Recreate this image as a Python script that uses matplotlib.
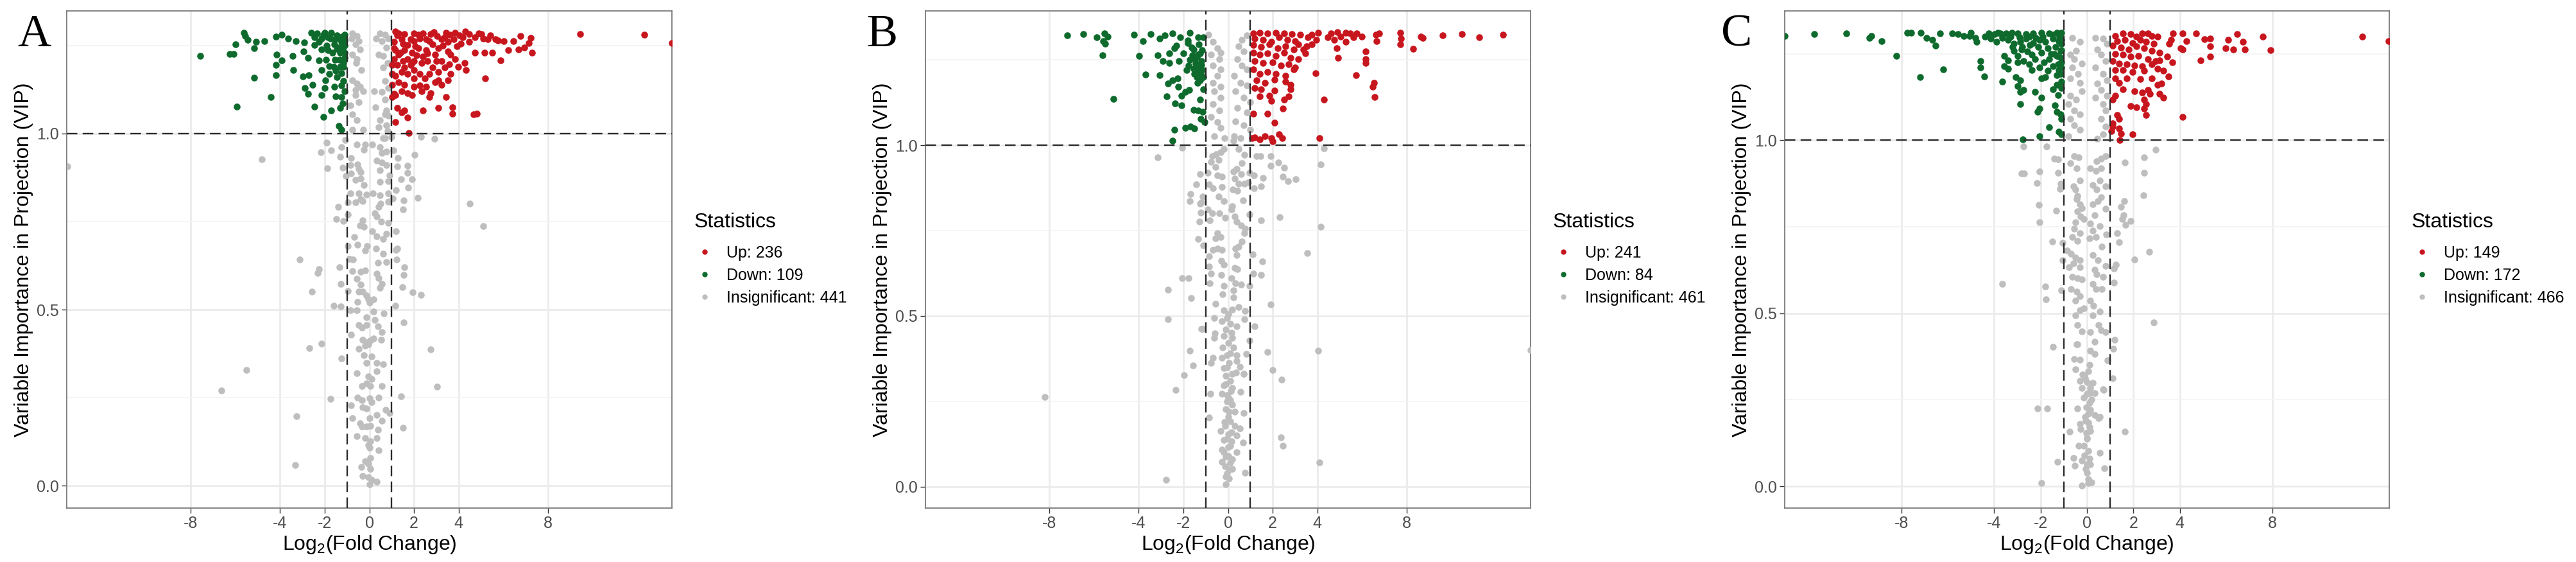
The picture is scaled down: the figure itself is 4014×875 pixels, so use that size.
import numpy as np
import matplotlib
matplotlib.use("Agg")
import matplotlib.pyplot as plt
from matplotlib.lines import Line2D

plt.rcParams["font.family"] = "Liberation Sans"
plt.rcParams["mathtext.fontset"] = "custom"
plt.rcParams["mathtext.rm"] = "Liberation Sans"

# ---- data: (log2 fold change, VIP) ----
panels = ["A", "B", "C"]
legend_counts = {"A": [236, 109, 441], "B": [241, 84, 461], "C": [149, 172, 466]}
x_ticks = [-8, -4, -2, 0, 2, 4, 8]
y_ticks = [0.0, 0.5, 1.0]

a_up = [
    (9.44, 1.283), (12.30, 1.280), (13.54, 1.257),
    (7.29, 1.230), (7.22, 1.272), (7.15, 1.257), (6.78, 1.276), (6.94, 1.245), (6.69, 1.239), (6.46, 1.263),
    (6.23, 1.236), (6.01, 1.263), (5.88, 1.208), (5.77, 1.265), (5.50, 1.230), (5.15, 1.230), (4.74, 1.230),
    (5.20, 1.156), (4.67, 1.054), (4.81, 1.057), (5.43, 1.279), (5.02, 1.282), (4.47, 1.282), (3.85, 1.286),
    (3.44, 1.286), (4.19, 1.273), (4.74, 1.273), (5.29, 1.267), (5.64, 1.267),
    (3.71, 1.075), (3.71, 1.057), (3.09, 1.072), (3.44, 1.103), (3.64, 1.169), (3.51, 1.151), (3.09, 1.151),
    (2.68, 1.103), (2.41, 1.066), (2.34, 1.121), (2.27, 1.136), (1.92, 1.109), (1.72, 1.045), (1.58, 1.066),
    (1.44, 1.060), (1.24, 1.072), (1.17, 1.033), (1.76, 1.001), (1.10, 1.112),
    (3.23, 1.206), (3.57, 1.197), (3.85, 1.212), (3.99, 1.190), (4.26, 1.200), (4.33, 1.181), (3.92, 1.248),
    (3.51, 1.233), (3.09, 1.242), (2.82, 1.254), (2.54, 1.236), (2.20, 1.242), (1.92, 1.230), (1.72, 1.251),
    (1.44, 1.267), (1.24, 1.279), (1.58, 1.282), (1.99, 1.285), (2.41, 1.284), (2.75, 1.282), (3.02, 1.276),
    (3.23, 1.267), (2.27, 1.270), (1.86, 1.267), (1.10, 1.260), (1.17, 1.236), (1.10, 1.212), (1.24, 1.194),
    (1.51, 1.206), (1.72, 1.212), (1.99, 1.206), (2.34, 1.200), (2.61, 1.206), (2.82, 1.187), (2.68, 1.169),
    (2.27, 1.169), (1.99, 1.181), (1.72, 1.169), (1.44, 1.175), (1.17, 1.163), (1.31, 1.145), (1.58, 1.139),
    (1.99, 1.157), (2.48, 1.157), (2.96, 1.145), (3.23, 1.139), (2.54, 1.133), (1.99, 1.133), (1.44, 1.121),
    (1.17, 1.109), (1.72, 1.115), (2.75, 1.115), (1.03, 1.169), (1.03, 1.194), (1.03, 1.139), (1.03, 1.103),
    (1.10, 1.242), (1.31, 1.224), (1.58, 1.236), (2.06, 1.248), (2.54, 1.267), (3.51, 1.260), (3.78, 1.267),
    (4.05, 1.279), (4.47, 1.260), (5.09, 1.270), (3.37, 1.273), (3.64, 1.224), (2.96, 1.224), (2.41, 1.218),
    (1.58, 1.187), (1.86, 1.194), (3.09, 1.175), (3.37, 1.187),
    (1.30, 1.285), (2.20, 1.280), (2.90, 1.288), (3.60, 1.280), (4.30, 1.290), (4.90, 1.285), (1.50, 1.255),
    (2.00, 1.262), (2.70, 1.262), (3.30, 1.250), (4.10, 1.255), (1.15, 1.290), (1.40, 1.230), (2.10, 1.222),
    (2.60, 1.228), (3.00, 1.205), (1.90, 1.200),
]
a_down = [
    (-7.56, 1.220), (-6.25, 1.225), (-6.07, 1.225), (-5.98, 1.254), (-5.63, 1.286), (-5.57, 1.276),
    (-5.46, 1.266), (-5.08, 1.260), (-5.15, 1.243), (-4.70, 1.262), (-4.19, 1.275), (-3.92, 1.280),
    (-3.64, 1.270), (-3.30, 1.262), (-2.93, 1.259), (-2.61, 1.286), (-2.34, 1.285), (-1.99, 1.286),
    (-1.72, 1.286), (-1.44, 1.279), (-1.30, 1.273), (-1.17, 1.276), (-2.47, 1.273), (-2.13, 1.270),
    (-1.85, 1.273), (-1.58, 1.267), (-4.16, 1.224), (-3.92, 1.207), (-3.44, 1.221), (-2.95, 1.233),
    (-2.75, 1.215), (-2.47, 1.251), (-2.13, 1.239), (-1.85, 1.236), (-1.58, 1.254), (-1.37, 1.245),
    (-4.19, 1.194), (-4.19, 1.166), (-3.41, 1.180), (-2.98, 1.162), (-2.71, 1.166), (-2.27, 1.207),
    (-2.13, 1.181), (-1.79, 1.192), (-1.51, 1.178), (-1.24, 1.172), (-1.17, 1.200), (-1.30, 1.230),
    (-1.10, 1.215), (-5.15, 1.158), (-4.40, 1.104), (-5.94, 1.076), (-2.75, 1.112), (-2.89, 1.130),
    (-2.54, 1.139), (-2.13, 1.109), (-1.97, 1.151), (-1.58, 1.133), (-1.24, 1.136), (-1.24, 1.103),
    (-2.45, 1.076), (-2.06, 1.048), (-1.72, 1.066), (-1.30, 1.072), (-1.37, 1.021), (-1.24, 1.011),
    (-1.10, 1.280), (-1.10, 1.250), (-1.10, 1.230), (-1.15, 1.190), (-1.25, 1.260), (-1.35, 1.210),
    (-1.45, 1.240), (-1.20, 1.240), (-1.40, 1.270), (-1.12, 1.265), (-1.30, 1.190), (-1.55, 1.210),
    (-1.65, 1.230), (-1.75, 1.270), (-1.90, 1.250), (-2.05, 1.280), (-2.25, 1.260), (-1.60, 1.190),
    (-1.95, 1.210), (-1.45, 1.160), (-1.15, 1.150), (-1.80, 1.170), (-2.00, 1.130), (-1.10, 1.120),
    (-1.50, 1.105), (-1.20, 1.085),
]
a_ns = [
    (-0.75, 1.285), (-0.55, 1.276), (-0.48, 1.263), (-0.62, 1.254), (-0.41, 1.239), (-0.75, 1.224),
    (-0.55, 1.212), (0.48, 1.285), (0.69, 1.280), (0.55, 1.263), (0.76, 1.245), (0.41, 1.224), (0.62, 1.221),
    (0.83, 1.200), (0.62, 1.188), (-0.75, 1.151), (-0.55, 1.142), (-0.41, 1.133), (-0.62, 1.124),
    (-0.27, 1.121), (0.21, 1.121), (0.55, 1.118), (-0.62, 1.109), (-0.48, 1.090), (0.69, 1.097),
    (0.76, 1.066), (0.48, 1.039), (0.69, 1.054), (-0.75, 1.054), (-0.55, 1.039), (-0.75, 1.011),
    (-0.27, 1.011), (0.41, 1.018), (0.76, 1.024), (0.28, 1.075), (0.69, 0.987), (-0.80, 1.270),
    (-0.60, 1.200), (-0.35, 1.180), (0.85, 1.270), (0.70, 1.150), (0.85, 1.050), (-0.85, 1.080),
    (0.30, 1.270), (0.85, 1.130),
    (4.50, 0.802), (5.10, 0.737), (-3.13, 0.642), (-2.25, 0.616), (-2.32, 0.605), (-2.56, 0.552),
    (-1.60, 0.512), (-1.27, 0.509), (-2.68, 0.391), (-2.13, 0.403), (-1.25, 0.361), (2.75, 0.387),
    (3.04, 0.281), (-1.74, 0.246), (-3.26, 0.198), (1.51, 0.164), (-3.33, 0.060), (1.41, 0.255),
    (1.53, 0.463), (2.32, 0.543), (1.93, 0.549), (2.17, 0.817), (1.92, 0.870), (2.04, 0.940), (2.92, 0.985),
    (2.30, 0.990), (1.75, 0.847), (1.72, 0.889), (1.72, 0.908), (1.42, 0.870), (1.55, 0.811), (1.50, 0.785),
    (1.58, 0.621), (1.55, 0.598), (1.47, 0.565), (1.25, 0.673), (1.22, 0.642), (1.15, 0.511),
    (-2.16, 0.947), (-1.87, 0.902), (-1.91, 0.975), (-1.72, 0.953), (-1.32, 0.934), (-1.25, 0.962),
    (-1.39, 0.792), (-1.47, 0.758), (-1.17, 0.751), (-1.34, 0.620), (-1.29, 0.574), (-13.53, 0.906),
    (-4.80, 0.927), (-5.49, 0.329), (-6.63, 0.271),
    (-1.08, 0.982), (-0.57, 0.969), (-0.19, 0.969), (-0.24, 0.955), (0.14, 0.969), (0.48, 0.962),
    (0.62, 0.987), (0.81, 1.008), (1.00, 0.990), (0.57, 0.945), (0.77, 0.948), (1.08, 0.953), (1.29, 0.931),
    (1.26, 0.907), (0.34, 0.924), (0.57, 0.917), (0.77, 0.910), (-0.82, 0.931), (-0.86, 0.910),
    (-0.53, 0.913), (-0.48, 0.900), (-0.38, 0.890), (-1.20, 0.903), (-1.05, 0.879), (-0.81, 0.886),
    (-0.62, 0.868), (-0.38, 0.872), (-0.24, 0.854), (0.48, 0.896), (0.46, 0.863), (0.86, 0.865),
    (0.91, 0.882), (1.20, 0.840), (-0.86, 0.830), (-0.48, 0.830), (-0.38, 0.813), (-0.14, 0.826),
    (0.16, 0.830), (0.48, 0.825), (0.86, 0.831), (-0.96, 0.805), (-0.62, 0.805), (-0.29, 0.809),
    (0.51, 0.802), (0.43, 0.792), (0.86, 0.807), (1.05, 0.815), (-0.96, 0.771), (0.24, 0.774), (0.34, 0.764),
    (-0.29, 0.753), (-0.24, 0.736), (-0.43, 0.739), (0.53, 0.750), (0.86, 0.746), (0.14, 0.722),
    (0.34, 0.708), (0.62, 0.701), (0.77, 0.715), (1.20, 0.723), (-0.67, 0.706), (-0.53, 0.684),
    (-0.96, 0.680), (-0.10, 0.680), (-0.19, 0.668), (0.29, 0.673), (0.62, 0.659), (0.75, 0.635),
    (1.20, 0.670), (-0.72, 0.642), (-0.91, 0.645), (0.38, 0.633), (-0.77, 0.610), (-0.38, 0.607),
    (-0.19, 0.612), (0.34, 0.603), (0.43, 0.589), (0.57, 0.574), (0.48, 0.563), (-0.55, 0.588),
    (-0.38, 0.571), (-0.96, 0.553), (-0.48, 0.551), (-0.29, 0.551), (-0.14, 0.541), (-0.05, 0.530),
    (0.19, 0.530), (0.00, 0.520), (-0.53, 0.523), (-0.86, 0.499), (-0.55, 0.499), (0.19, 0.495),
    (0.64, 0.490), (-0.14, 0.478), (0.24, 0.471), (-0.48, 0.457), (-0.34, 0.450), (-0.14, 0.457),
    (0.38, 0.453), (-0.81, 0.429), (0.57, 0.436), (-0.29, 0.415), (-0.14, 0.408), (0.05, 0.412),
    (0.19, 0.419), (-0.05, 0.401), (-0.19, 0.398), (0.53, 0.415), (-0.48, 0.389), (-0.24, 0.370),
    (0.10, 0.368), (-0.14, 0.349), (0.34, 0.349), (0.62, 0.345), (-0.55, 0.319), (-0.05, 0.311),
    (0.10, 0.304), (-0.14, 0.290), (-0.34, 0.283), (0.05, 0.283), (0.57, 0.284), (0.34, 0.325),
    (-0.53, 0.251), (-0.34, 0.244), (0.00, 0.248), (0.10, 0.237), (0.43, 0.251), (-0.81, 0.229),
    (-0.29, 0.224), (-0.14, 0.220), (0.72, 0.216), (0.91, 0.206), (-0.77, 0.193), (0.34, 0.202),
    (0.57, 0.185), (0.00, 0.192), (-0.43, 0.178), (-0.34, 0.168), (-0.14, 0.168), (0.05, 0.171),
    (0.38, 0.159), (-0.55, 0.142), (-0.19, 0.135), (0.34, 0.135), (0.05, 0.126), (-0.05, 0.115),
    (0.00, 0.108), (0.41, 0.101), (-0.35, 0.054), (-0.19, 0.070), (0.03, 0.080), (-0.05, 0.063),
    (0.05, 0.049), (-0.29, 0.028), (-0.05, 0.025), (0.10, 0.018), (0.34, 0.011), (0.00, 0.004),
]

b_up = [
    (12.32, 1.325), (11.26, 1.317), (10.47, 1.327), (9.60, 1.322), (8.73, 1.314), (8.63, 1.319),
    (8.30, 1.282), (7.72, 1.330), (7.75, 1.313), (7.72, 1.297), (6.78, 1.328), (6.63, 1.325), (6.66, 1.306),
    (6.17, 1.275), (6.15, 1.253), (6.17, 1.242), (5.72, 1.206), (6.53, 1.184), (6.49, 1.171), (6.56, 1.141),
    (4.92, 1.256), (4.29, 1.134), (4.10, 1.022), (3.92, 1.211), (4.87, 1.284), (5.26, 1.303),
    (4.61, 1.328), (4.89, 1.331), (5.26, 1.330), (5.47, 1.328), (5.76, 1.328), (5.98, 1.319), (5.62, 1.316),
    (5.04, 1.319), (4.75, 1.310), (4.46, 1.316), (4.03, 1.330), (3.74, 1.325), (3.59, 1.316), (3.95, 1.310),
    (3.52, 1.291), (3.74, 1.297), (3.38, 1.281), (3.45, 1.269),
    (1.13, 1.328), (1.42, 1.330), (1.78, 1.328), (2.14, 1.330), (2.51, 1.328), (2.87, 1.327), (3.23, 1.325),
    (1.20, 1.313), (1.57, 1.310), (1.93, 1.303), (2.29, 1.316), (2.65, 1.310), (3.01, 1.306),
    (1.13, 1.294), (1.49, 1.288), (1.86, 1.297), (2.22, 1.284), (2.58, 1.291), (2.94, 1.281), (3.16, 1.297),
    (1.13, 1.272), (1.42, 1.266), (1.78, 1.269), (2.14, 1.262), (2.51, 1.272), (2.80, 1.256), (3.16, 1.253),
    (1.20, 1.247), (1.57, 1.241), (2.00, 1.244), (2.36, 1.234), (2.72, 1.237), (3.01, 1.228),
    (1.13, 1.222), (1.42, 1.209), (1.78, 1.215), (2.14, 1.209), (2.58, 1.203), (2.94, 1.222),
    (1.28, 1.190), (1.64, 1.184), (2.07, 1.193), (2.58, 1.187), (2.80, 1.178),
    (1.20, 1.168), (1.49, 1.165), (2.07, 1.160), (2.80, 1.165), (2.72, 1.143), (2.51, 1.134), (1.86, 1.146),
    (1.93, 1.130), (1.42, 1.143), (1.13, 1.093), (1.78, 1.092), (2.07, 1.066), (2.46, 1.107), (2.29, 1.033),
    (2.43, 1.021), (1.20, 1.024), (1.42, 1.018), (1.64, 1.027), (1.93, 1.021), (2.00, 1.011), (1.09, 1.021),
]
b_down = [
    (-7.19, 1.323), (-6.47, 1.327), (-5.89, 1.316), (-5.53, 1.328), (-5.38, 1.319), (-5.60, 1.306),
    (-5.50, 1.298), (-5.63, 1.264), (-4.22, 1.325), (-3.82, 1.306), (-3.46, 1.326), (-3.07, 1.313),
    (-2.82, 1.323), (-2.49, 1.328), (-2.15, 1.316), (-1.72, 1.330), (-1.79, 1.308), (-1.33, 1.316),
    (-1.11, 1.317), (-3.98, 1.262), (-3.14, 1.264), (-2.63, 1.269), (-2.41, 1.284), (-2.31, 1.292),
    (-1.62, 1.287), (-1.55, 1.281), (-1.30, 1.297), (-2.92, 1.247), (-2.63, 1.242), (-2.20, 1.247),
    (-1.33, 1.266), (-1.47, 1.253), (-1.18, 1.247), (-1.76, 1.234), (-1.86, 1.220), (-1.55, 1.225),
    (-1.40, 1.215), (-1.21, 1.209), (-3.69, 1.208), (-3.07, 1.206), (-2.70, 1.182), (-2.49, 1.190),
    (-2.27, 1.196), (-2.23, 1.171), (-1.36, 1.184), (-1.11, 1.200), (-1.73, 1.162), (-1.91, 1.156),
    (-2.08, 1.146), (-2.75, 1.143), (-1.11, 1.164), (-5.14, 1.137), (-2.37, 1.123), (-2.08, 1.118),
    (-1.26, 1.134), (-1.55, 1.105), (-1.33, 1.102), (-1.14, 1.099), (-1.21, 1.077), (-1.04, 1.068),
    (-1.91, 1.052), (-1.69, 1.055), (-1.52, 1.049), (-2.41, 1.045), (-2.50, 1.013), (-1.15, 1.280),
    (-1.25, 1.270), (-1.40, 1.260), (-1.20, 1.235), (-1.30, 1.225), (-1.45, 1.240), (-1.15, 1.220),
    (-1.60, 1.265), (-1.70, 1.250), (-1.50, 1.210), (-1.25, 1.190), (-1.40, 1.200), (-1.80, 1.300),
    (-2.00, 1.270),
]
b_ns = [
    (-0.89, 1.325), (-0.68, 1.303), (-0.46, 1.284), (-0.32, 1.272), (-0.75, 1.266), (-0.39, 1.253),
    (-0.68, 1.234), (-0.32, 1.222), (-0.46, 1.203), (-0.68, 1.184), (-0.32, 1.171), (-0.61, 1.159),
    (-0.32, 1.140), (-0.68, 1.121), (-0.39, 1.102), (-0.75, 1.084), (-0.46, 1.068), (-0.32, 1.052),
    (-0.61, 1.027), (-0.17, 1.021), (0.26, 1.027), (0.48, 1.291), (0.62, 1.310), (0.84, 1.322),
    (0.70, 1.275), (0.41, 1.253), (0.62, 1.234), (0.84, 1.222), (0.26, 1.203), (0.55, 1.184), (0.84, 1.175),
    (0.34, 1.159), (0.70, 1.140), (0.99, 1.127), (0.41, 1.109), (0.84, 1.096), (0.34, 1.071), (0.70, 1.058),
    (0.99, 1.046), (0.55, 1.021),
    (-3.16, 0.965), (-2.06, 0.993), (-2.68, 0.577), (-2.69, 0.490), (-2.06, 0.611), (-1.77, 0.611),
    (-1.64, 0.552), (-1.72, 0.399), (-1.56, 0.355), (-1.96, 0.327), (-2.34, 0.284), (-2.77, 0.020),
    (3.55, 0.685), (4.15, 0.761), (4.15, 0.945), (4.29, 0.991), (4.04, 0.399), (4.09, 0.070), (2.38, 0.145),
    (2.46, 0.120), (2.40, 0.313), (2.01, 0.341), (1.78, 0.394), (1.90, 0.533), (2.30, 0.789), (3.02, 0.900),
    (2.70, 0.895), (2.47, 0.909), (2.51, 0.934), (2.25, 0.949), (1.90, 0.968), (1.90, 0.940), (1.49, 0.881),
    (1.58, 0.904), (1.49, 0.780), (1.49, 0.621), (1.55, 0.660), (1.14, 0.624), (1.20, 0.470), (0.82, 0.389),
    (0.75, 0.040), (0.67, 0.129), (0.69, 0.216), (0.56, 0.277), (0.69, 0.331), (-0.76, 0.362),
    (-0.78, 0.272), (-0.86, 0.202), (-1.19, 0.463), (-1.34, 0.725), (-1.10, 0.707), (-1.29, 0.777),
    (-1.21, 0.803), (-1.24, 0.829), (-1.67, 0.858), (-1.72, 0.836), (-1.43, 0.886), (-1.24, 0.915),
    (1.27, 0.968), (1.46, 0.968), (1.15, 0.913), (1.15, 0.874), (1.10, 0.681), (-8.20, 0.262), (13.54, 0.401),
    (-0.71, 0.968), (-0.52, 0.975), (-0.33, 0.979), (-0.19, 0.989), (-0.43, 0.958), (-0.76, 0.951),
    (-0.57, 0.937), (-0.48, 0.913), (-0.28, 0.909), (-0.91, 0.920), (-0.86, 0.885), (-0.67, 0.874),
    (-0.28, 0.878), (0.24, 0.923), (0.39, 0.930), (0.58, 0.916), (0.29, 0.902), (0.48, 0.888), (0.72, 0.888),
    (0.91, 0.892), (0.96, 0.920), (0.63, 0.948), (0.72, 0.972), (0.48, 0.989), (0.24, 1.014), (0.22, 0.871),
    (0.43, 0.867), (0.67, 0.838), (-0.43, 0.850), (-0.19, 0.836), (-1.14, 0.850), (-1.19, 0.833),
    (-0.91, 0.812), (-0.71, 0.801), (-0.38, 0.801), (-0.14, 0.787), (0.18, 0.822), (0.15, 0.812),
    (0.29, 0.791), (0.39, 0.777), (0.58, 0.766), (0.77, 0.756), (0.72, 0.742), (0.96, 0.798), (-0.81, 0.780),
    (-0.48, 0.742), (-0.33, 0.732), (-0.57, 0.728), (-0.67, 0.693), (-0.48, 0.697), (-0.28, 0.693),
    (0.34, 0.697), (0.48, 0.704), (0.39, 0.679), (0.63, 0.718), (-0.86, 0.674), (-0.30, 0.662),
    (-0.19, 0.651), (-0.86, 0.644), (-0.76, 0.624), (-0.30, 0.620), (0.29, 0.641), (0.43, 0.638),
    (0.15, 0.610), (0.34, 0.596), (0.58, 0.592), (0.24, 0.575), (0.24, 0.554), (-0.81, 0.596),
    (-0.19, 0.589), (-0.24, 0.564), (0.96, 0.589), (-0.57, 0.536), (-0.19, 0.516), (0.00, 0.505),
    (0.19, 0.519), (0.48, 0.526), (0.77, 0.514), (-0.62, 0.495), (-0.28, 0.484), (0.10, 0.477), (0.39, 0.470),
    (0.72, 0.491), (-0.04, 0.495), (-1.14, 0.463), (-0.59, 0.449), (-0.62, 0.435), (-0.19, 0.442),
    (0.19, 0.435), (0.24, 0.408), (-0.24, 0.408), (0.96, 0.428), (-0.67, 0.378), (-0.28, 0.378),
    (-0.04, 0.385), (0.39, 0.385), (0.39, 0.369), (0.05, 0.362), (-0.19, 0.348), (0.53, 0.352),
    (0.36, 0.334), (0.70, 0.331), (-0.09, 0.324), (0.10, 0.310), (-0.19, 0.296), (0.19, 0.289),
    (-0.04, 0.268), (-0.28, 0.272), (0.10, 0.254), (0.19, 0.240), (-0.09, 0.226), (0.29, 0.219),
    (0.00, 0.205), (0.10, 0.192), (-0.14, 0.178), (0.29, 0.178), (0.53, 0.171), (-0.33, 0.162),
    (0.00, 0.153), (0.39, 0.150), (-0.19, 0.136), (0.15, 0.132), (0.00, 0.115), (-0.28, 0.108),
    (0.39, 0.101), (-0.09, 0.087), (-0.28, 0.073), (0.10, 0.070), (-0.14, 0.059), (0.19, 0.052),
    (-0.04, 0.038), (0.05, 0.024), (-0.09, 0.007), (-0.05, 0.250), (0.05, 0.220), (-0.15, 0.190),
    (0.15, 0.160), (-0.05, 0.140), (0.10, 0.120), (0.00, 0.090), (-0.20, 0.100), (0.20, 0.080),
    (0.05, 0.050), (-0.10, 0.030), (0.00, 0.260), (0.12, 0.280), (-0.10, 0.300), (0.20, 0.330),
    (-0.05, 0.350), (0.10, 0.390), (0.00, 0.420), (0.15, 0.450), (-0.10, 0.460),
]

c_up = [
    (11.88, 1.300), (13.00, 1.287), (7.90, 1.260), (7.57, 1.300), (6.81, 1.262), (6.73, 1.284),
    (6.48, 1.306), (6.31, 1.262), (6.09, 1.290), (5.98, 1.265), (5.31, 1.272), (5.31, 1.241), (5.31, 1.293),
    (4.89, 1.230), (5.06, 1.291), (4.69, 1.309), (4.30, 1.287), (4.13, 1.309), (4.13, 1.262), (4.05, 1.265),
    (4.13, 1.067), (3.72, 1.309), (3.63, 1.290), (3.55, 1.278), (3.68, 1.225), (3.46, 1.241), (3.52, 1.185),
    (3.30, 1.200), (3.21, 1.163), (3.30, 1.123), (3.13, 1.135),
    (1.21, 1.302), (1.54, 1.309), (1.88, 1.306), (2.13, 1.299), (2.38, 1.309), (2.63, 1.309), (2.80, 1.302),
    (3.05, 1.299), (1.29, 1.287), (1.62, 1.290), (1.96, 1.281), (2.29, 1.290), (2.54, 1.284), (2.88, 1.278),
    (1.12, 1.274), (1.46, 1.268), (1.79, 1.262), (2.13, 1.271), (2.46, 1.265), (2.80, 1.259), (3.13, 1.253),
    (1.21, 1.250), (1.54, 1.247), (1.88, 1.241), (2.21, 1.244), (2.63, 1.234), (2.96, 1.228), (3.13, 1.231),
    (1.12, 1.228), (1.37, 1.222), (1.71, 1.219), (2.04, 1.216), (2.38, 1.213), (2.80, 1.219),
    (1.21, 1.203), (1.54, 1.203), (1.96, 1.197), (2.46, 1.200), (3.05, 1.206),
    (1.21, 1.179), (1.71, 1.179), (2.29, 1.176), (2.80, 1.179),
    (1.37, 1.166), (1.54, 1.148), (2.04, 1.142), (2.38, 1.138), (2.63, 1.145), (2.71, 1.135), (3.05, 1.160),
    (1.21, 1.129), (1.12, 1.117), (1.88, 1.098), (2.13, 1.095), (2.46, 1.117), (2.54, 1.104), (2.46, 1.092),
    (2.54, 1.073), (1.29, 1.073), (1.37, 1.061), (1.12, 1.040), (1.37, 1.033), (1.46, 1.019), (1.96, 1.018),
    (1.12, 1.048), (1.04, 1.027), (1.40, 1.000),
]
c_down = [
    (-13.02, 1.302), (-11.76, 1.306), (-10.38, 1.309), (-9.37, 1.296), (-9.30, 1.302), (-8.84, 1.287),
    (-8.22, 1.244), (-7.75, 1.310), (-7.58, 1.310), (-7.16, 1.310), (-7.20, 1.183), (-6.91, 1.296),
    (-6.66, 1.290), (-6.54, 1.273), (-6.33, 1.309), (-6.21, 1.205), (-5.82, 1.309), (-5.57, 1.306),
    (-5.32, 1.302), (-5.07, 1.302), (-4.82, 1.296), (-4.77, 1.284), (-4.60, 1.229), (-4.60, 1.210),
    (-4.43, 1.185),
    (-4.23, 1.309), (-3.98, 1.306), (-3.73, 1.309), (-3.48, 1.309), (-3.23, 1.310), (-2.98, 1.309),
    (-2.64, 1.306), (-2.31, 1.309), (-1.97, 1.310), (-1.64, 1.309), (-1.30, 1.310), (-1.10, 1.310),
    (-4.15, 1.293), (-3.90, 1.284), (-3.65, 1.296), (-3.40, 1.290), (-3.15, 1.278), (-2.89, 1.284),
    (-2.64, 1.293), (-2.31, 1.281), (-2.06, 1.290), (-1.81, 1.284), (-1.47, 1.293), (-1.22, 1.287),
    (-1.10, 1.278), (-3.56, 1.244), (-3.40, 1.231), (-3.15, 1.259), (-2.98, 1.244), (-2.81, 1.262),
    (-2.56, 1.256), (-2.39, 1.247), (-1.97, 1.253), (-1.64, 1.234), (-1.30, 1.244), (-1.14, 1.259),
    (-1.10, 1.225), (-2.98, 1.225), (-2.73, 1.228), (-2.48, 1.219), (-3.56, 1.213), (-3.40, 1.207),
    (-2.39, 1.203), (-1.47, 1.213), (-1.22, 1.203), (-1.30, 1.188), (-1.14, 1.191), (-1.97, 1.179),
    (-1.81, 1.182), (-3.06, 1.182), (-2.89, 1.173), (-3.65, 1.169), (-2.98, 1.157), (-2.89, 1.139),
    (-2.73, 1.145), (-2.23, 1.139), (-1.97, 1.123), (-1.47, 1.148), (-1.10, 1.151), (-1.39, 1.101),
    (-1.30, 1.083), (-1.14, 1.074), (-2.06, 1.092), (-2.14, 1.083), (-2.89, 1.104), (-1.10, 1.061),
    (-1.64, 1.038), (-2.06, 1.012), (-1.10, 1.018), (-1.22, 1.024), (-2.78, 1.002),
    (-1.20, 1.300), (-1.50, 1.305), (-1.90, 1.300), (-2.20, 1.295), (-2.50, 1.300), (-2.90, 1.297),
    (-3.30, 1.300), (-1.35, 1.270), (-1.70, 1.265), (-2.10, 1.270), (-2.45, 1.275), (-2.80, 1.270),
    (-3.20, 1.270), (-1.15, 1.240), (-1.55, 1.250), (-1.85, 1.225), (-2.25, 1.235), (-1.25, 1.220),
    (-1.70, 1.200), (-2.05, 1.210), (-4.40, 1.300), (-5.00, 1.310), (-3.85, 1.310), (-1.12, 1.290),
    (-1.12, 1.260), (-1.12, 1.210), (-1.12, 1.170), (-1.30, 1.160), (-1.25, 1.130), (-1.40, 1.250),
]
c_ns = [
    (-0.63, 1.296), (-0.30, 1.284), (-0.47, 1.259), (-0.72, 1.247), (-0.55, 1.234), (-0.22, 1.222),
    (-0.63, 1.210), (-0.38, 1.191), (-0.72, 1.179), (-0.30, 1.166), (-0.22, 1.142), (-0.72, 1.129),
    (-0.47, 1.117), (-0.80, 1.104), (-0.55, 1.086), (-0.30, 1.074), (-0.72, 1.061), (-0.55, 1.043),
    (-0.30, 1.030), (-0.80, 1.012), (0.37, 1.296), (0.70, 1.293), (0.87, 1.278), (0.45, 1.262),
    (0.62, 1.247), (0.79, 1.228), (0.37, 1.210), (0.70, 1.191), (0.87, 1.173), (0.45, 1.163), (0.62, 1.145),
    (0.87, 1.129), (0.37, 1.123), (0.70, 1.104), (0.79, 1.086), (0.62, 1.061), (0.79, 1.040), (0.70, 1.018),
    (0.45, 1.005),
    (-3.65, 0.584), (-2.81, 0.904), (-2.71, 0.904), (-2.74, 0.982), (-2.04, 0.909), (-2.16, 0.876),
    (-2.08, 0.813), (-2.04, 0.762), (-1.79, 0.577), (-1.77, 0.541), (-1.49, 0.708), (-1.47, 0.403),
    (-2.14, 0.224), (-1.71, 0.224), (-1.28, 0.071), (-1.97, 0.010), (-1.74, 0.982), (2.45, 0.951),
    (2.47, 0.905), (2.43, 0.841), (2.95, 0.973), (2.68, 0.677), (2.05, 0.656), (2.89, 0.474), (1.62, 0.157),
    (1.89, 0.766), (1.66, 0.755), (1.60, 0.825), (1.48, 0.808), (1.57, 0.783), (1.53, 0.773), (1.39, 0.706),
    (1.30, 0.731), (1.25, 0.640), (1.16, 0.630), (1.16, 0.588), (1.62, 0.935), (1.19, 0.424), (1.14, 0.397),
    (1.11, 0.312), (0.88, 0.364), (0.72, 0.279), (0.56, 0.200), (0.56, 0.097), (0.74, 0.052), (-0.76, 0.157),
    (-0.59, 0.082), (-0.53, 0.059), (-0.42, 0.225), (-0.45, 0.411), (-1.42, 0.947), (-1.24, 0.944),
    (-1.33, 0.797), (-1.10, 0.567), (-1.05, 0.654), (-1.05, 0.703), (-1.14, 0.874), (-1.16, 0.860),
    (-1.24, 0.905),
    (-0.54, 0.954), (-0.36, 0.951), (-0.73, 0.933), (-0.45, 0.919), (-0.31, 0.884), (-0.59, 0.867),
    (-0.50, 0.857), (-0.41, 0.839), (-0.45, 0.829), (-0.31, 0.815), (-0.22, 0.804), (-0.41, 0.794),
    (-0.27, 0.780), (-0.13, 0.773), (-0.50, 0.762), (-0.54, 0.745), (-0.31, 0.731), (-0.64, 0.720),
    (-0.41, 0.710), (-0.87, 0.682), (-0.68, 0.672), (-0.50, 0.661), (-0.31, 0.654), (-0.59, 0.644),
    (-0.31, 0.633), (-0.77, 0.633), (-0.64, 0.605), (-0.41, 0.602), (-0.22, 0.598), (-0.68, 0.570),
    (-0.45, 0.563), (-0.31, 0.549), (-0.50, 0.536), (-0.13, 0.515), (-0.31, 0.508), (-0.50, 0.494),
    (-0.41, 0.466), (-0.22, 0.448), (-0.41, 0.410), (-0.54, 0.368), (-0.31, 0.365), (-0.50, 0.337),
    (-0.18, 0.323), (-0.31, 0.305), (-0.08, 0.312), (-0.22, 0.284), (0.15, 0.284), (0.01, 0.267),
    (0.33, 0.270), (-0.13, 0.256), (0.10, 0.242), (-0.04, 0.228), (0.15, 0.221), (0.33, 0.207),
    (0.51, 0.197), (-0.08, 0.200), (0.05, 0.183), (-0.31, 0.180), (-0.27, 0.166), (-0.04, 0.155),
    (0.15, 0.159), (0.01, 0.138), (-0.13, 0.117), (0.05, 0.103), (-0.36, 0.117), (-0.22, 0.075),
    (0.01, 0.064), (0.15, 0.064), (0.01, 0.040), (-0.22, 0.002), (0.05, 0.009), (0.19, 0.012),
    (0.15, 0.919), (0.42, 0.940), (0.61, 0.947), (0.79, 0.954), (0.38, 0.912), (0.61, 0.919), (0.56, 0.884),
    (0.24, 0.871), (0.42, 0.857), (0.79, 0.867), (0.47, 0.825), (0.61, 0.836), (0.24, 0.815), (0.79, 0.801),
    (0.33, 0.783), (0.56, 0.752), (0.15, 0.759), (0.24, 0.738), (0.10, 0.717), (0.38, 0.720), (0.84, 0.727),
    (0.65, 0.693), (0.24, 0.668), (0.47, 0.654), (0.79, 0.637), (0.33, 0.626), (0.42, 0.612), (0.70, 0.605),
    (0.65, 0.570), (0.24, 0.584), (0.38, 0.570), (0.15, 0.536), (0.28, 0.522), (0.56, 0.504), (0.24, 0.494),
    (0.51, 0.466), (0.61, 0.452), (0.79, 0.445), (0.15, 0.445), (0.33, 0.417), (0.15, 0.392), (0.33, 0.382),
    (0.10, 0.351), (0.70, 0.281), (0.24, 0.298), (0.05, 0.333), (0.00, 0.300), (0.10, 0.270),
    (-0.10, 0.320), (0.20, 0.250), (0.05, 0.210), (-0.05, 0.190), (0.10, 0.170), (0.00, 0.140),
    (-0.10, 0.090), (0.10, 0.080), (-0.05, 0.050), (0.05, 0.020),
]

data = {"A": (a_up, a_down, a_ns), "B": (b_up, b_down, b_ns), "C": (c_up, c_down, c_ns)}

# ---- layout (pixels of the 4014 x 875 canvas) ----
W, H = 4014, 875
AX_TOP, AX_BOTTOM = 17, 791
layout = {
    # axes left, axes right, x half-range, y limits, panel letter left
    "A": (104, 1047, 13.55, (-0.063, 1.348), 27),
    "B": (1442, 2385, 13.55, (-0.063, 1.394), 1351),
    "C": (2781, 3723, 13.03, (-0.063, 1.3735), 2682),
}
RED, GREEN, GREY = "#C8161E", "#0E6B2D", "#BEBEBE"
DARK = "#333333"

fig = plt.figure(figsize=(W / 100, H / 100), dpi=100)

for name in panels:
    left, right, xr, ylim, letter_x = layout[name]
    ax = fig.add_axes([left / W, 1 - AX_BOTTOM / H, (right - left) / W, (AX_BOTTOM - AX_TOP) / H])
    up, down, ns = data[name]
    for pts, col in ((ns, GREY), (down, GREEN), (up, RED)):
        xy = np.array(pts)
        ax.scatter(xy[:, 0], xy[:, 1], s=58, c=col, linewidths=0, zorder=3)

    for xv in (-1, 1):
        ax.axvline(xv, color="#2b2b2b", lw=1.7, dashes=(7, 3.5), zorder=4)
    ax.axhline(1.0, color="#2b2b2b", lw=1.7, dashes=(7, 3.5), zorder=4)

    ax.set_xlim(-xr, xr)
    ax.set_ylim(*ylim)
    ax.set_xticks(x_ticks)
    ax.set_xticklabels([str(t) for t in x_ticks])
    ax.set_yticks(y_ticks)
    ax.set_yticklabels([f"{t:.1f}" for t in y_ticks])
    ax.set_yticks([0.25, 0.75, 1.25], minor=True)
    ax.grid(which="major", color="#EBEBEB", lw=2.0, zorder=0)
    ax.grid(which="minor", axis="y", color="#F4F4F4", lw=1.2, zorder=0)
    ax.set_axisbelow(True)
    ax.tick_params(which="major", length=5.5, width=1.0, color=DARK, labelsize=18,
                   labelcolor="#4D4D4D", pad=3.4)
    ax.tick_params(which="minor", length=0)
    for sp in ax.spines.values():
        sp.set_color("#7A7A7A")
        sp.set_linewidth(1.3)

    ax.set_xlabel(r"Log$_{\mathregular{2}}$(Fold Change)", fontsize=23)
    ax.xaxis.set_label_coords(0.5, -(856 - AX_BOTTOM) / (AX_BOTTOM - AX_TOP))
    ax.xaxis.label.set_va("baseline")
    ax.set_ylabel("Variable Importance in Projection (VIP)", fontsize=23)
    ax.yaxis.set_label_coords(-67 / (right - left), 0.5)
    ax.yaxis.label.set_va("center")

    # panel letter
    fig.text(letter_x / W, 1 - 72 / H, name, fontsize=52, family="Liberation Serif", va="baseline")

    # legend, drawn by hand to match the ggplot guide spacing
    lx = right + 35
    fig.text(lx / W, 1 - 354 / H, "Statistics", fontsize=23, va="baseline")
    for i, (lab, col, n) in enumerate(zip(["Up", "Down", "Insignificant"], [RED, GREEN, GREY],
                                          legend_counts[name])):
        yc = 392 + 35 * i
        fig.add_artist(Line2D([(lx + 16) / W], [1 - yc / H], marker="o", ms=6, lw=0, color=col,
                              markeredgewidth=0, transform=fig.transFigure))
        fig.text((lx + 50) / W, 1 - (yc + 9) / H, f"{lab}: {n}", fontsize=18, va="baseline")

fig.savefig("out.png", dpi=100)
